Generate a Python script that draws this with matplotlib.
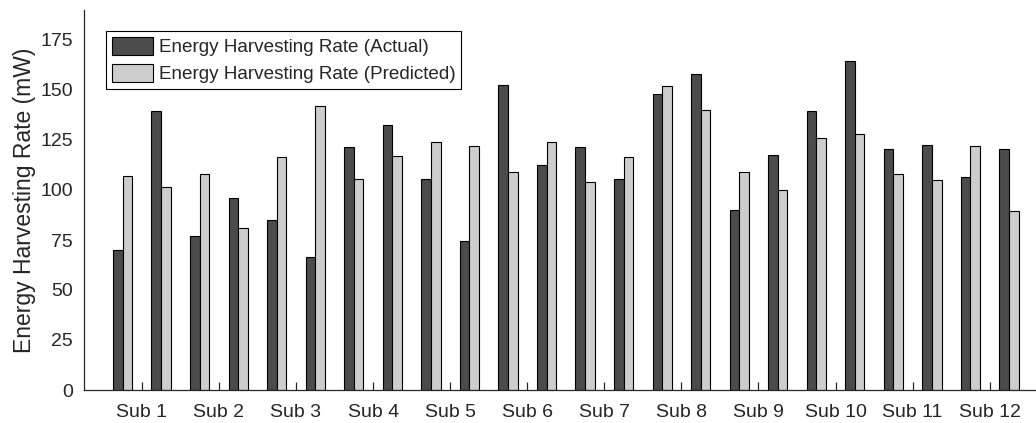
import numpy as np
import matplotlib
matplotlib.use("Agg")
import matplotlib.pyplot as plt

plt.rcParams['font.family'] = ['Liberation Sans', 'DejaVu Sans']

subjects = ['Sub %d' % i for i in range(1, 13)]
# two trials per subject, in order: sub1 t1, sub1 t2, sub2 t1, ...
actual = [70, 139.5, 77, 96, 85, 66.5, 121.5, 132.5, 105.5, 74.5, 152.5, 112.5,
          121.5, 105.5, 148, 158, 90, 117.5, 139.5, 164.5, 120.5, 122.5, 106.5, 120.5]
predicted = [107, 101.5, 108, 81, 116.5, 142, 105.5, 117, 124, 122, 109, 124,
             104, 116.5, 152, 140, 109, 100, 126, 128, 108, 105, 122, 89.5]

dark = '#4b4b4b'
light = '#cdcdcd'
txt = '#262626'

fig = plt.figure(figsize=(10.36, 4.23), dpi=100)
ax = fig.add_axes([84 / 1036, 33 / 423, 952 / 1036, 380 / 423])

x = np.arange(len(actual))
w = 0.25
ax.bar(x - w / 2, actual, w, color=dark, edgecolor='black', linewidth=0.8,
       label='Energy Harvesting Rate (Actual)')
ax.bar(x + w / 2, predicted, w, color=light, edgecolor='black', linewidth=0.8,
       label='Energy Harvesting Rate (Predicted)')

ax.set_xlim(-1.0, 23.7)
ax.set_ylim(0, 190)
ax.set_yticks(np.arange(0, 176, 25))
ax.set_xticks(np.arange(12) * 2 + 0.5)
ax.set_xticklabels(subjects)

for s in ['top', 'right']:
    ax.spines[s].set_visible(False)
for s in ['left', 'bottom']:
    ax.spines[s].set_color(txt)
    ax.spines[s].set_linewidth(0.9)

ax.tick_params(axis='x', direction='in', length=6, width=0.9, color=txt,
               labelsize=14, labelcolor=txt, pad=10)
ax.tick_params(axis='y', direction='in', length=0, labelsize=14,
               labelcolor=txt, pad=8)
ax.set_ylabel('Energy Harvesting Rate (mW)', fontsize=16.5, color=txt, labelpad=3)

leg = ax.legend(loc='upper left', bbox_to_anchor=(0.023, 0.945), borderaxespad=0,
                fancybox=False, edgecolor='black', fontsize=13.6,
                handlelength=2.2, handleheight=1.1, handletextpad=0.3,
                labelspacing=0.4, borderpad=0.3, framealpha=1)
leg.get_frame().set_linewidth(0.8)
for t in leg.get_texts():
    t.set_color(txt)

fig.savefig('out.png', dpi=100)
